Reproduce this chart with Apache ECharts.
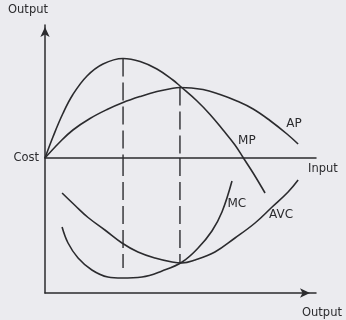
<!DOCTYPE html>
<html>
<head>
<meta charset="utf-8">
<script src="https://cdn.jsdelivr.net/npm/echarts@6/dist/echarts.min.js"></script>
<style>
html, body { margin: 0; padding: 0; background: #ebebef; }
#chart { width: 346px; height: 320px; }
</style>
</head>
<body>
<div id="chart"></div>
<script>
// upper panel: product curves against input
var mpX = [0, 0.30, 0.66, 1.03, 1.55, 2.14, 2.88, 3.51, 4.13, 4.72, 4.98, 5.61, 6.09, 6.57, 7.01, 7.31, 7.68, 8.12];
var mpY = [0, 2.15, 4.45, 6.35, 8.2, 9.4, 9.95, 9.65, 8.9, 7.8, 7.2, 5.7, 4.35, 2.8, 1.3, 0.05, -1.5, -3.5];
var apX = [0, 0.55, 1.03, 1.66, 2.29, 2.88, 3.51, 4.13, 4.72, 4.98, 5.83, 6.46, 7.08, 7.68, 8.30, 8.93, 9.34];
var apY = [0, 1.6, 2.8, 3.95, 4.85, 5.55, 6.15, 6.65, 6.98, 7.05, 6.85, 6.35, 5.7, 4.9, 3.75, 2.4, 1.4];

// lower panel: cost curves against output
var mcX = [0.63, 0.85, 1.22, 1.73, 2.32, 2.84, 3.58, 4.32, 5.06, 5.65, 6.16, 6.53, 6.90];
var mcY = [6.6, 5.0, 3.5, 2.3, 1.6, 1.5, 1.6, 2.2, 3.1, 4.5, 6.2, 8.1, 11.2];
var avcX = [0.63, 1.11, 1.59, 2.21, 2.84, 3.43, 4.06, 4.69, 5.06, 5.54, 6.27, 7.01, 7.75, 8.38, 8.97, 9.34];
var avcY = [10.0, 8.75, 7.55, 6.3, 5.0, 4.1, 3.5, 3.1, 3.0, 3.3, 4.1, 5.5, 7.0, 8.6, 10.1, 11.3];

// dashed drop lines (MP max / AP max)
var dropX = [2.88, 4.98];
var dropTop = [9.95, 7.05];
var dropBottom = [2.5, 3.0];

var ink = '#2b2b2e';

function zip(xs, ys) {
  return xs.map(function (x, i) { return [x, ys[i]]; });
}

function curveLabel(name, coord) {
  return {
    symbol: 'circle',
    symbolSize: 1,
    itemStyle: { color: 'transparent' },
    label: { show: true, position: 'inside', formatter: '{b}', color: ink, fontSize: 12, fontFamily: 'DejaVu Sans' },
    data: [{ name: name, coord: coord }]
  };
}

function curve(name, data, gridIdx, labelCoord) {
  return {
    name: name,
    type: 'line',
    xAxisIndex: gridIdx,
    yAxisIndex: gridIdx,
    data: data,
    smooth: 0.4,
    symbol: 'none',
    clip: false,
    lineStyle: { color: ink, width: 1.6 },
    markPoint: curveLabel(name, labelCoord)
  };
}

function dashed(data, gridIdx) {
  return {
    type: 'line',
    xAxisIndex: gridIdx,
    yAxisIndex: gridIdx,
    data: data,
    symbol: 'none',
    lineStyle: { color: ink, width: 1.4, type: [18, 6] }
  };
}

var nameFont = { color: ink, fontSize: 11.5, fontFamily: 'DejaVu Sans' };
var line = { show: true, lineStyle: { color: ink, width: 1.5 } };

var chart = echarts.init(document.getElementById('chart'));
chart.setOption({
  animation: false,
  backgroundColor: '#ebebef',
  grid: [
    { left: 45, right: 30, top: 25, height: 133, outerBoundsMode: 'none' },
    { left: 45, right: 30, top: 158, height: 135, outerBoundsMode: 'none' }
  ],
  xAxis: [
    {
      gridIndex: 0, type: 'value', min: 0, max: 10,
      name: 'Input', nameLocation: 'end', nameGap: -8,
      nameTextStyle: Object.assign({ verticalAlign: 'top', lineHeight: 22 }, nameFont),
      axisLine: line, axisTick: { show: false }, axisLabel: { show: false }, splitLine: { show: false }
    },
    {
      gridIndex: 1, type: 'value', min: 0, max: 10,
      name: 'Output', nameLocation: 'end', nameGap: -14,
      nameTextStyle: Object.assign({ verticalAlign: 'top', lineHeight: 40 }, nameFont),
      axisLine: Object.assign({ symbol: ['none', 'arrow'], symbolSize: [7, 10], symbolOffset: [0, -6] }, line),
      axisTick: { show: false }, axisLabel: { show: false }, splitLine: { show: false }
    }
  ],
  yAxis: [
    {
      gridIndex: 0, type: 'value', min: 0, max: 13.3,
      name: 'Output', nameLocation: 'end', nameGap: 9,
      nameTextStyle: Object.assign({ align: 'center', padding: [0, 34, 0, 0] }, nameFont),
      axisLine: Object.assign({ symbol: ['none', 'arrow'], symbolSize: [7, 10], symbolOffset: [0, -2] }, line),
      axisTick: { show: false }, axisLabel: { show: false }, splitLine: { show: false }
    },
    {
      gridIndex: 1, type: 'value', min: 0, max: 13.5,
      name: 'Cost', nameLocation: 'end', nameGap: 0,
      nameTextStyle: Object.assign({ align: 'right', verticalAlign: 'middle', padding: [0, 6, 0, 0] }, nameFont),
      axisLine: line, axisTick: { show: false }, axisLabel: { show: false }, splitLine: { show: false }
    }
  ],
  series: [
    curve('MP', zip(mpX, mpY), 0, [7.45, 1.7]),
    curve('AP', zip(apX, apY), 0, [9.19, 3.4]),
    curve('MC', zip(mcX, mcY), 1, [7.08, 8.9]),
    curve('AVC', zip(avcX, avcY), 1, [8.71, 7.8]),
    dashed([[dropX[0], dropTop[0]], [dropX[0], 0]], 0),
    dashed([[dropX[1], dropTop[1]], [dropX[1], 0]], 0),
    dashed([[dropX[0], 13.5], [dropX[0], dropBottom[0]]], 1),
    dashed([[dropX[1], 13.5], [dropX[1], dropBottom[1]]], 1)
  ]
});
</script>
</body>
</html>
